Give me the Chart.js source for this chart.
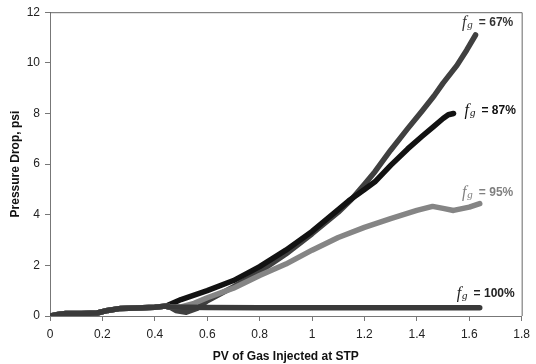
<!DOCTYPE html>
<html>
<head>
<meta charset="utf-8">
<script src="https://cdn.jsdelivr.net/npm/chart.js@4/dist/chart.umd.min.js"></script>
<style>
  html, body { margin: 0; padding: 0; background: #fff; }
  #wrap { width: 536px; height: 364px; }
</style>
</head>
<body>
<div id="wrap"><canvas id="dataChart"></canvas></div>
<script>
// PV of gas injected (x) and pressure drop in psi (y)
const start_x = [0, 0.03, 0.06, 0.12, 0.18, 0.22, 0.27, 0.33, 0.4, 0.45];
const start_y = [0, 0.06, 0.1, 0.1, 0.12, 0.22, 0.3, 0.32, 0.35, 0.4];

const fg67_x = [0.45, 0.48, 0.52, 0.56, 0.6, 0.7, 0.8, 0.9, 1.0, 1.1, 1.15, 1.2, 1.24, 1.3, 1.365, 1.42, 1.466, 1.5, 1.553, 1.59, 1.624];
const fg67_y = [0.4, 0.22, 0.15, 0.3, 0.6, 1.15, 1.75, 2.45, 3.25, 4.1, 4.6, 5.2, 5.7, 6.55, 7.4, 8.1, 8.7, 9.2, 9.9, 10.5, 11.1];

const fg87_x = [0.45, 0.5, 0.6, 0.7, 0.8, 0.9, 1.0, 1.1, 1.14, 1.2, 1.24, 1.3, 1.365, 1.42, 1.466, 1.5, 1.52, 1.54];
const fg87_y = [0.42, 0.65, 1.0, 1.4, 1.95, 2.6, 3.34, 4.2, 4.55, 5.0, 5.3, 5.95, 6.6, 7.1, 7.5, 7.8, 7.95, 8.0];

const fg95_x = [0.45, 0.5, 0.55, 0.6, 0.7, 0.8, 0.9, 1.0, 1.1, 1.2, 1.3, 1.4, 1.46, 1.5, 1.54, 1.6, 1.64];
const fg95_y = [0.36, 0.36, 0.5, 0.72, 1.1, 1.6, 2.05, 2.6, 3.1, 3.5, 3.85, 4.17, 4.33, 4.25, 4.17, 4.3, 4.44];

const fg100_x = [0.45, 0.6, 0.8, 1.0, 1.2, 1.4, 1.64];
const fg100_y = [0.36, 0.34, 0.33, 0.33, 0.33, 0.33, 0.33];

const seriesNames = ['67%', '87%', '95%', '100%'];
const xTicks = [0, 0.2, 0.4, 0.6, 0.8, 1, 1.2, 1.4, 1.6, 1.8];
const yTicks = [0, 2, 4, 6, 8, 10, 12];

// label anchor values (x, y in data units) for each curve label
const labelX = [1.572, 1.582, 1.572, 1.552];
const labelY = [11.58, 8.1, 4.87, 0.87];

function toPoints(xs, ys) {
  return xs.map((x, i) => ({ x: x, y: ys[i] }));
}

function withStart(xs, ys) {
  return toPoints(start_x.concat(xs), start_y.concat(ys));
}

// Draws the top/right frame and the f_g labels
const framePlugin = {
  id: 'frame',
  afterDatasetsDraw(chart) {
    const { ctx, chartArea, scales } = chart;
    ctx.save();
    ctx.strokeStyle = '#666';
    ctx.lineWidth = 1;
    ctx.beginPath();
    ctx.moveTo(chartArea.left, chartArea.top + 0.5);
    ctx.lineTo(chartArea.right + 0.5, chartArea.top + 0.5);
    ctx.lineTo(chartArea.right + 0.5, chartArea.bottom);
    ctx.stroke();

    const colors = ['#333', '#111', '#808080', '#222'];
    seriesNames.forEach((name, i) => {
      let px = scales.x.getPixelForValue(labelX[i]);
      const py = scales.y.getPixelForValue(labelY[i]);
      ctx.fillStyle = colors[i];
      ctx.textBaseline = 'middle';
      ctx.font = 'italic 16px "Liberation Serif"';
      ctx.fillText('f', px, py);
      px += ctx.measureText('f').width + 1;
      ctx.font = 'italic 11px "Liberation Serif"';
      ctx.fillText('g', px, py + 2);
      px += ctx.measureText('g').width + 6;
      ctx.font = 'bold 12px "Liberation Sans"';
      ctx.fillText('= ' + name, px, py);
    });
    ctx.restore();
  }
};

const ctx = document.getElementById('dataChart').getContext('2d');

const lineStyle = {
  showLine: true,
  pointRadius: 0,
  borderWidth: 5.5,
  tension: 0,
  borderCapStyle: 'round',
  borderJoinStyle: 'round'
};

new Chart(ctx, {
  type: 'scatter',
  data: {
    datasets: [
      Object.assign({ label: '100%', data: withStart(fg100_x, fg100_y), borderColor: '#3a3a3a' }, lineStyle),
      Object.assign({ label: '95%', data: withStart(fg95_x, fg95_y), borderColor: '#858585' }, lineStyle),
      Object.assign({ label: '87%', data: withStart(fg87_x, fg87_y), borderColor: '#121212' }, lineStyle),
      Object.assign({ label: '67%', data: withStart(fg67_x, fg67_y), borderColor: '#404040' }, lineStyle)
    ]
  },
  options: {
    responsive: true,
    maintainAspectRatio: false,
    animation: false,
    layout: { padding: { top: 9, right: 7, left: 0, bottom: 0 } },
    plugins: {
      legend: { display: false },
      tooltip: { enabled: false }
    },
    scales: {
      x: {
        type: 'linear',
        min: 0,
        max: 1.8,
        afterBuildTicks: axis => { axis.ticks = xTicks.map(v => ({ value: v })); },
        afterFit: axis => { axis.height = 48; },
        border: { color: '#777', width: 1 },
        grid: { drawOnChartArea: false, drawTicks: true, tickLength: 5, color: '#777' },
        ticks: {
          color: '#222',
          font: { family: 'Liberation Sans', size: 12 },
          padding: 6,
          maxRotation: 0,
          callback: v => String(v)
        },
        title: {
          display: true,
          text: 'PV of Gas Injected at STP',
          color: '#111',
          font: { family: 'Liberation Sans', size: 12, weight: 'bold' },
          padding: { top: 4, bottom: 0 }
        }
      },
      y: {
        type: 'linear',
        min: 0,
        max: 12,
        afterBuildTicks: axis => { axis.ticks = yTicks.map(v => ({ value: v })); },
        afterFit: axis => { axis.width = 50; },
        border: { color: '#777', width: 1 },
        grid: { drawOnChartArea: false, drawTicks: true, tickLength: 5, color: '#777' },
        ticks: {
          color: '#222',
          font: { family: 'Liberation Sans', size: 12 },
          padding: 5
        },
        title: {
          display: true,
          text: 'Pressure Drop, psi',
          color: '#111',
          font: { family: 'Liberation Sans', size: 12, weight: 'bold' },
          padding: { top: 8, bottom: 0 }
        }
      }
    }
  },
  plugins: [framePlugin]
});
</script>
</body>
</html>
